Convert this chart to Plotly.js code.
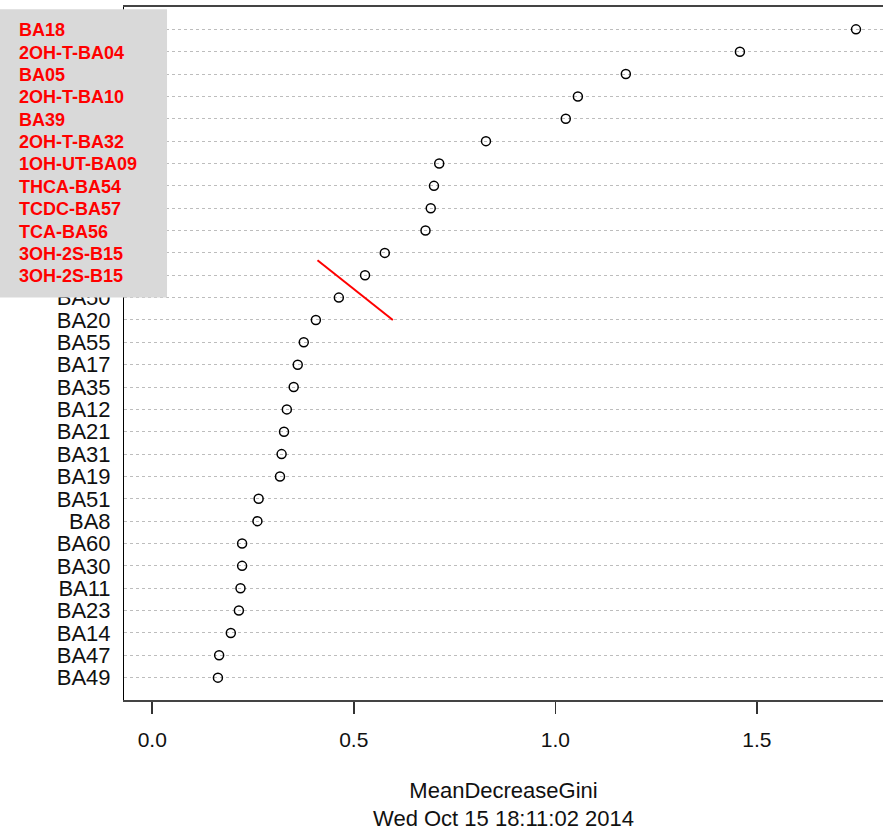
<!DOCTYPE html>
<html>
<head>
<meta charset="utf-8">
<script src="https://cdn.plot.ly/plotly-3.0.1.min.js"></script>
<style>
  html, body { margin: 0; padding: 0; background: #ffffff; }
  #chart { width: 883px; height: 832px; }
</style>
</head>
<body>
<div id="chart"></div>
<script>
// Variable names, top (most important) to bottom
const labels = [
  "BA18", "2OH-T-BA04", "BA05", "2OH-T-BA10", "BA39", "2OH-T-BA32",
  "1OH-UT-BA09", "THCA-BA54", "TCDC-BA57", "TCA-BA56", "3OH-2S-B15", "3OH-2S-B15",
  "BA50", "BA20", "BA55", "BA17", "BA35", "BA12", "BA21", "BA31", "BA19",
  "BA51", "BA8", "BA60", "BA30", "BA11", "BA23", "BA14", "BA47", "BA49"
];
// MeanDecreaseGini values
const gini = [
  1.746, 1.458, 1.175, 1.056, 1.026, 0.828,
  0.712, 0.699, 0.691, 0.678, 0.577, 0.528,
  0.463, 0.406, 0.376, 0.361, 0.351, 0.334, 0.327, 0.321, 0.317,
  0.264, 0.261, 0.223, 0.223, 0.219, 0.215, 0.195, 0.166, 0.163
];
// number of top variables listed in the red overlay box
const highlightCount = 12;
const xTickVals = [0, 0.5, 1.0, 1.5];
const xTickText = ["0.0", "0.5", "1.0", "1.5"];
const xTitle = "MeanDecreaseGini";
const dateStamp = "Wed Oct 15 18:11:02 2014";

const n = labels.length;
const rowPos = labels.map((_, i) => n - i);
// the top labels are covered by the grey box and re-written in red there
const axisText = labels.map((lab, i) => (i < highlightCount ? "" : lab));

const FONT = "Liberation Sans, Arial, sans-serif";

const trace = {
  type: "scatter",
  mode: "markers",
  x: gini,
  y: rowPos,
  marker: {
    symbol: "circle-open",
    size: 9,
    color: "#000000",
    line: { width: 1.5, color: "#000000" }
  },
  hoverinfo: "x+text",
  text: labels,
  showlegend: false,
  cliponaxis: false
};

const redAnnotations = labels.slice(0, highlightCount).map((lab, i) => ({
  xref: "paper", yref: "y",
  x: -0.1415, y: rowPos[i],
  xanchor: "left", yanchor: "middle",
  yshift: -1,
  text: "<b>" + lab + "</b>",
  showarrow: false,
  font: { family: FONT, size: 18, color: "#ff0000" }
}));

const layout = {
  width: 883,
  height: 832,
  margin: { l: 124, r: 0, t: 7, b: 132, pad: 0 },
  paper_bgcolor: "#ffffff",
  plot_bgcolor: "#ffffff",
  font: { family: FONT, color: "#000000" },
  xaxis: {
    range: [-0.07, 1.813],
    tickvals: xTickVals,
    ticktext: xTickText,
    ticks: "outside",
    ticklen: 12,
    tickwidth: 1.5,
    tickcolor: "#333333",
    ticklabelstandoff: 8,
    tickfont: { family: FONT, size: 21, color: "#111111" },
    showgrid: false,
    zeroline: false,
    showline: true,
    linecolor: "#444444",
    linewidth: 2,
    mirror: true,
    title: {
      text: xTitle + "<br>" + dateStamp,
      font: { family: FONT, size: 22, color: "#111111" },
      standoff: 32
    }
  },
  yaxis: {
    range: [0, 31],
    tickvals: rowPos,
    ticktext: axisText,
    ticks: "",
    ticklabelstandoff: 8,
    tickfont: { family: FONT, size: 22, color: "#111111" },
    showgrid: true,
    gridcolor: "#bdbdbd",
    griddash: "dot",
    gridwidth: 1,
    zeroline: false,
    showline: true,
    linecolor: "#000000",
    linewidth: 1,
    mirror: false
  },
  shapes: [
    {
      type: "rect", layer: "above",
      xref: "paper", yref: "paper",
      x0: -0.1634, x1: 0.0567, y0: 0.5807, y1: 0.9967,
      fillcolor: "#d9d9d9",
      line: { width: 0 }
    },
    {
      type: "line", layer: "above",
      xref: "x", yref: "y",
      x0: 0.410, y0: 19.67, x1: 0.597, y1: 17.0,
      line: { color: "#ff0000", width: 2 }
    }
  ],
  annotations: redAnnotations
};

Plotly.newPlot("chart", [trace], layout, { staticPlot: true, displayModeBar: false });
</script>
</body>
</html>
